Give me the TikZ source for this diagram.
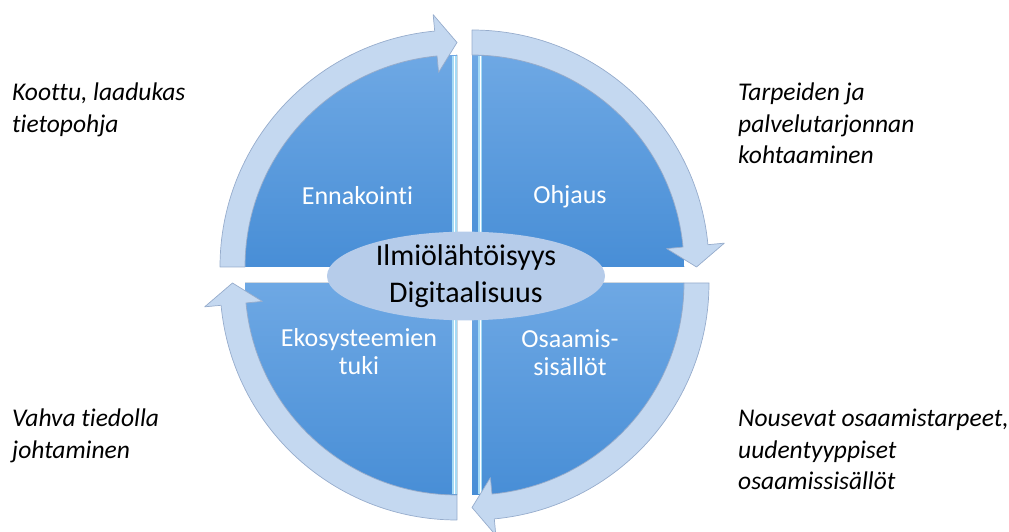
\documentclass[tikz,border=0pt]{standalone}
\usepackage{fontspec}
\setmainfont{Carlito}[Ligatures=NoCommon]
\usetikzlibrary{calc,shapes.geometric}
\definecolor{pietop}{RGB}{110,168,228}
\definecolor{piebot}{RGB}{72,142,214}
\definecolor{bandfill}{RGB}{196,216,240}
\definecolor{bandline}{RGB}{150,172,204}
\definecolor{ellfill}{RGB}{182,204,234}
\definecolor{stripc}{RGB}{165,218,245}
\begin{document}
\begin{tikzpicture}[x=1pt,y=1pt,
  pie/.style={top color=pietop,bottom color=piebot,draw=none},
  band/.style={fill=bandfill,draw=bandline,line width=0.7pt,line join=round},
  qlabel/.style={text=white,font=\fontsize{26}{28}\selectfont,align=center,inner sep=0,anchor=base},
  side/.style={font=\itshape\fontsize{25.5}{31.5}\selectfont,align=left,inner sep=0,anchor=base west},
  hub/.style={ellipse,fill=ellfill,minimum width=278,minimum height=86,inner sep=0,align=center,font=\fontsize{30}{36.7}\selectfont},
]
\useasboundingbox (0,0) rectangle (1009,532);
\def\R{212} \def\Ro{237} \def\Rm{224.5} \def\Hi{195.5} \def\Ho{253.5} \def\hd{5.4}
\coordinate (TL) at (457,265);
\coordinate (TR) at (472,265);
\coordinate (BL) at (457,249);
\coordinate (BR) at (472,249);
% pies
\fill[pie] (TL) -- ++(180:\R) arc[start angle=180,end angle=90,radius=\R] -- cycle;
\fill[pie] (TR) -- ++(90:\R) arc[start angle=90,end angle=0,radius=\R] -- cycle;
\fill[pie] (BR) -- ++(0:\R) arc[start angle=0,end angle=-90,radius=\R] -- cycle;
\fill[pie] (BL) -- ++(-90:\R) arc[start angle=-90,end angle=-180,radius=\R] -- cycle;
% bevel strips
\fill[stripc] ($(TL)+(-5,0)$) rectangle ($(TL)+(0,211)$);
\draw[white,line width=1pt] ($(TL)+(-2.5,0)$) -- ($(TL)+(-2.5,211)$);
\fill[stripc] ($(TR)+(6,0)$) rectangle ($(TR)+(10,211)$);
\draw[white,line width=1pt] ($(TR)+(8,0)$) -- ($(TR)+(8,211)$);
\fill[stripc] ($(BL)+(-5,0)$) rectangle ($(BL)+(0,-211)$);
\draw[white,line width=1pt] ($(BL)+(-2.5,0)$) -- ($(BL)+(-2.5,-211)$);
\fill[stripc] ($(BR)+(6,0)$) rectangle ($(BR)+(10,-211)$);
\draw[white,line width=1pt] ($(BR)+(8,0)$) -- ($(BR)+(8,-211)$);
% bands with arrow heads
\draw[band] ($(TL)+(180:\Ro)$) arc[start angle=180,end angle=90+\hd,radius=\Ro]
  -- ($(TL)+(90+\hd:\Ho)$) -- ($(TL)+(90:\Rm)$) -- ($(TL)+(90+\hd:\Hi)$)
  -- ($(TL)+(90+\hd:\R)$) arc[start angle=90+\hd,end angle=180,radius=\R] -- cycle;
\draw[band] ($(TR)+(90:\Ro)$) arc[start angle=90,end angle=\hd,radius=\Ro]
  -- ($(TR)+(\hd:\Ho)$) -- ($(TR)+(0:\Rm)$) -- ($(TR)+(\hd:\Hi)$)
  -- ($(TR)+(\hd:\R)$) arc[start angle=\hd,end angle=90,radius=\R] -- cycle;
\draw[band] ($(BR)+(0:\Ro)$) arc[start angle=0,end angle=-90+\hd,radius=\Ro]
  -- ($(BR)+(-90+\hd:\Ho)$) -- ($(BR)+(-90:\Rm)$) -- ($(BR)+(-90+\hd:\Hi)$)
  -- ($(BR)+(-90+\hd:\R)$) arc[start angle=-90+\hd,end angle=0,radius=\R] -- cycle;
\draw[band] ($(BL)+(-90:\Ro)$) arc[start angle=-90,end angle=-180+\hd,radius=\Ro]
  -- ($(BL)+(-180+\hd:\Ho)$) -- ($(BL)+(-180:\Rm)$) -- ($(BL)+(-180+\hd:\Hi)$)
  -- ($(BL)+(-180+\hd:\R)$) arc[start angle=-180+\hd,end angle=-90,radius=\R] -- cycle;
% labels (base anchor = baseline of last line)
\node[qlabel] (enn) at (357.5,327) {Ennakointi};
\node[qlabel] (ohj) at (570,328) {Ohjaus};
\node[qlabel] (eko) at (359,157) {Ekosysteemien\\tuki};
\node[qlabel] (osa) at (570,156) {Osaamis-\\sisällöt};
\node[hub] (hub) at (466,256) {Ilmiölähtöisyys\\Digitaalisuus};
% side texts
\node[side] (s1) at (12,399.5) {Koottu, laadukas\\tietopohja};
\node[side] (s2) at (738,368) {Tarpeiden ja\\palvelutarjonnan\\kohtaaminen};
\node[side] (s3) at (12,73.5) {Vahva tiedolla\\johtaminen};
\node[side] (s4) at (738,42) {Nousevat osaamistarpeet,\\uudentyyppiset\\osaamissisällöt};
\end{tikzpicture}
\end{document}
